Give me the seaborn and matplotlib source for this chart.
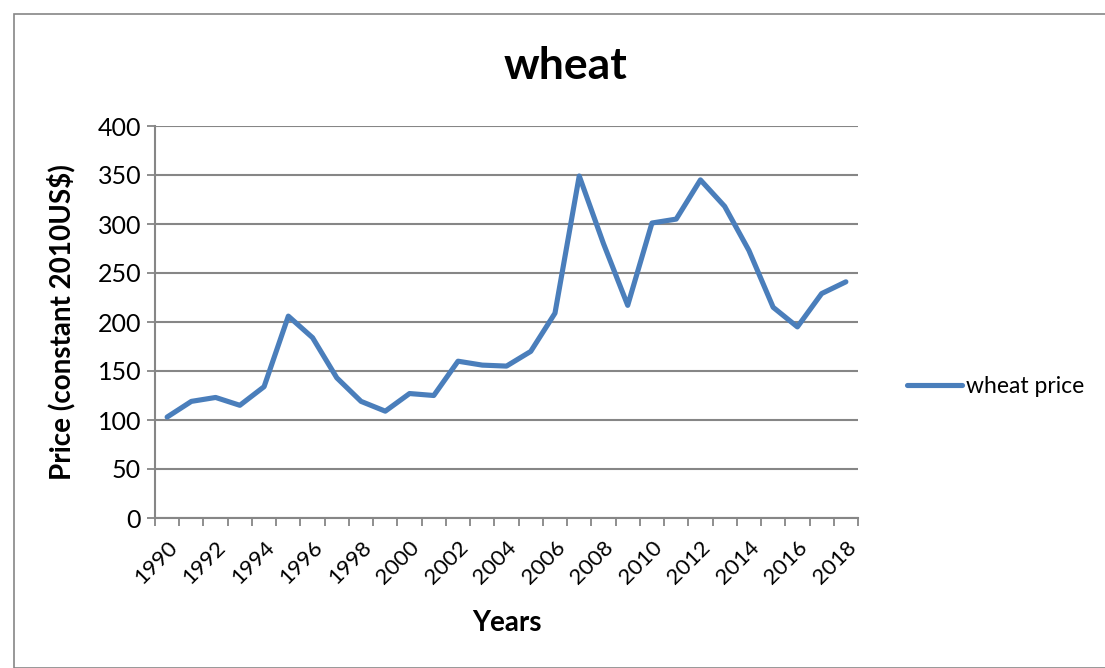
import matplotlib
matplotlib.use("Agg")
import matplotlib.pyplot as plt
import seaborn as sns
import pandas as pd
import numpy as np
from matplotlib.patches import Rectangle
from matplotlib.ticker import FixedLocator

years = list(range(1990, 2019))
wheat_price = [103, 119, 123, 115, 134, 206, 184, 143, 119, 109, 127, 125, 160, 156, 155,
               170, 209, 349, 280, 217, 301, 305, 345, 318, 273, 215, 195, 229, 241]
series_name = "wheat price"
title = "wheat"
x_label = "Years"
y_label = "Price (constant 2010US$)"
y_ticks = [0, 50, 100, 150, 200, 250, 300, 350, 400]

sns.set_theme(style="white")
plt.rcParams['font.family'] = ['Lato', 'DejaVu Sans']
plt.rcParams['text.color'] = 'black'
plt.rcParams['axes.labelcolor'] = 'black'
plt.rcParams['xtick.labelcolor'] = 'black'
plt.rcParams['ytick.labelcolor'] = 'black'

df = pd.DataFrame({"idx": np.arange(len(years)), "year": years, "price": wheat_price, "series": series_name})

fig = plt.figure(figsize=(11.05, 6.68), dpi=100)
ax = fig.add_axes([155/1105, 1-518/668, (858-155)/1105, (518-126)/668])

line_color = "#4A7EBB"
grid_color = "#868686"

sns.lineplot(data=df, x="idx", y="price", hue="series", palette=[line_color],
             linewidth=3.7, ax=ax, legend=True)

ax.set_xlim(-0.5, len(years) - 0.5)
ax.set_ylim(0, 400)
ax.set_yticks(y_ticks)
ax.set_yticklabels([str(v) for v in y_ticks], fontsize=18)
ax.yaxis.grid(True, color=grid_color, linewidth=1.5)
ax.xaxis.grid(False)
ax.set_axisbelow(True)

label_idx = list(range(0, len(years), 2))
ax.set_xticks(label_idx)
ax.set_xticklabels([str(years[i]) for i in label_idx], rotation=45, ha="right",
                   rotation_mode="anchor", fontsize=16)
ax.tick_params(axis="x", which="major", length=0, pad=14)
ax.xaxis.set_minor_locator(FixedLocator(np.arange(-0.5, len(years), 1.0)))
ax.tick_params(axis="x", which="minor", length=6, width=1.3, color=grid_color, direction="out", bottom=True)
ax.tick_params(axis="y", which="major", length=6, width=1.3, color=grid_color, direction="out", left=True, pad=4)

for s in ["top", "right"]:
    ax.spines[s].set_visible(False)
for s in ["left", "bottom"]:
    ax.spines[s].set_color(grid_color)
    ax.spines[s].set_linewidth(1.5)

ax.set_xlabel(x_label, fontsize=20, fontweight="bold", labelpad=16)
ax.set_ylabel(y_label, fontsize=20, fontweight="bold", labelpad=16)
fig.text(565/1105, 1 - 66/668, title, fontsize=32, fontweight="bold", ha="center", va="center")

leg = ax.legend(loc="center left", bbox_to_anchor=(1.04, 0.335), frameon=False,
                fontsize=16.5, handlelength=2.4, handletextpad=0.2)
for h in leg.get_lines():
    h.set_linewidth(3.7)

fig.patches.append(Rectangle((14/1105, 0), 1.2, 1 - 14/668, transform=fig.transFigure,
                             fill=False, edgecolor=grid_color, linewidth=1.2))

fig.savefig("out.png", dpi=100)
